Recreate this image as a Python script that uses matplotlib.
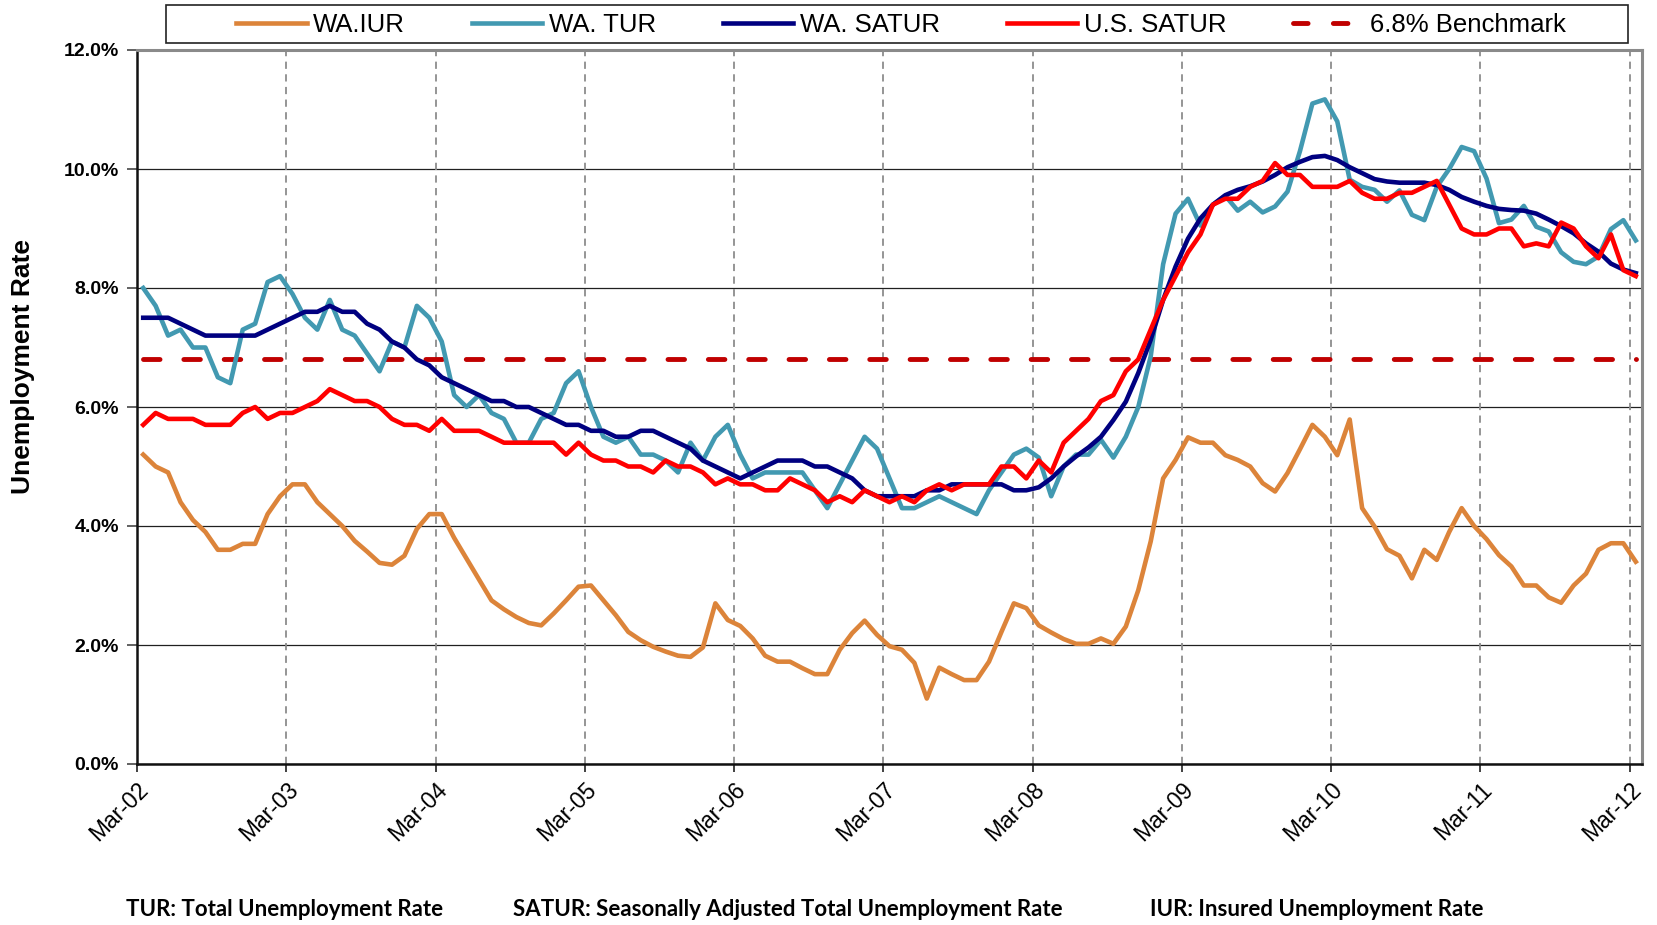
import matplotlib
matplotlib.use("Agg")
import matplotlib.pyplot as plt
from matplotlib.lines import Line2D
from matplotlib.patches import Rectangle
import numpy as np

# ---------------- data ----------------
tick_labels = ["Mar-02", "Mar-03", "Mar-04", "Mar-05", "Mar-06", "Mar-07",
               "Mar-08", "Mar-09", "Mar-10", "Mar-11", "Mar-12"]

wa_iur = [5.2, 5.0, 4.9, 4.4, 4.1, 3.9, 3.6, 3.6, 3.7, 3.7, 4.2, 4.5,
          4.7, 4.7, 4.4, 4.2, 4.0, 3.75, 3.57, 3.38, 3.35, 3.5, 3.95, 4.2,
          4.2, 3.8, 3.45, 3.1, 2.75, 2.6, 2.47, 2.37, 2.33, 2.53, 2.75, 2.98,
          3.0, 2.75, 2.5, 2.22, 2.08, 1.97, 1.89, 1.82, 1.8, 1.96, 2.7, 2.42,
          2.32, 2.11, 1.82, 1.72, 1.72, 1.61, 1.51, 1.51, 1.92, 2.2, 2.41, 2.17,
          1.98, 1.92, 1.7, 1.1, 1.62, 1.51, 1.41, 1.41, 1.72, 2.22, 2.7, 2.62,
          2.33, 2.21, 2.1, 2.02, 2.02, 2.11, 2.02, 2.31, 2.92, 3.74, 4.8, 5.11,
          5.49, 5.4, 5.4, 5.19, 5.11, 5.0, 4.72, 4.58, 4.89, 5.29, 5.7, 5.5,
          5.19, 5.79, 4.3, 3.99, 3.61, 3.5, 3.12, 3.6, 3.43, 3.9, 4.3, 4.0,
          3.78, 3.51, 3.32, 3.0, 3.0, 2.8, 2.71, 3.0, 3.2, 3.6, 3.71, 3.71,
          3.4]

wa_tur = [8.0, 7.7, 7.2, 7.3, 7.0, 7.0, 6.5, 6.4, 7.3, 7.4, 8.1, 8.2,
          7.9, 7.5, 7.3, 7.8, 7.3, 7.2, 6.9, 6.6, 7.1, 7.0, 7.7, 7.5,
          7.1, 6.2, 6.0, 6.2, 5.9, 5.8, 5.4, 5.4, 5.8, 5.9, 6.4, 6.6,
          6.0, 5.5, 5.4, 5.5, 5.2, 5.2, 5.1, 4.9, 5.4, 5.1, 5.5, 5.7,
          5.2, 4.8, 4.9, 4.9, 4.9, 4.9, 4.6, 4.3, 4.7, 5.1, 5.5, 5.3,
          4.8, 4.3, 4.3, 4.4, 4.5, 4.4, 4.3, 4.2, 4.6, 4.9, 5.2, 5.3,
          5.15, 4.5, 5.0, 5.2, 5.2, 5.45, 5.15, 5.5, 6.0, 6.85, 8.4, 9.25,
          9.5, 9.05, 9.4, 9.55, 9.3, 9.45, 9.27, 9.37, 9.62, 10.3, 11.1, 11.17,
          10.8, 9.82, 9.7, 9.65, 9.45, 9.64, 9.23, 9.14, 9.7, 10.0, 10.37, 10.3,
          9.84, 9.09, 9.15, 9.38, 9.03, 8.95, 8.6, 8.44, 8.4, 8.53, 8.99, 9.14,
          8.8]

wa_satur = [7.5, 7.5, 7.5, 7.4, 7.3, 7.2, 7.2, 7.2, 7.2, 7.2, 7.3, 7.4,
            7.5, 7.6, 7.6, 7.7, 7.6, 7.6, 7.4, 7.3, 7.1, 7.0, 6.8, 6.7,
            6.5, 6.4, 6.3, 6.2, 6.1, 6.1, 6.0, 6.0, 5.9, 5.8, 5.7, 5.7,
            5.6, 5.6, 5.5, 5.5, 5.6, 5.6, 5.5, 5.4, 5.3, 5.1, 5.0, 4.9,
            4.8, 4.9, 5.0, 5.1, 5.1, 5.1, 5.0, 5.0, 4.9, 4.8, 4.6, 4.5,
            4.5, 4.5, 4.5, 4.6, 4.6, 4.7, 4.7, 4.7, 4.7, 4.7, 4.6, 4.6,
            4.65, 4.8, 5.0, 5.17, 5.32, 5.5, 5.78, 6.09, 6.57, 7.13, 7.8, 8.36,
            8.83, 9.17, 9.4, 9.56, 9.65, 9.71, 9.79, 9.9, 10.03, 10.12, 10.2, 10.22,
            10.15, 10.03, 9.93, 9.83, 9.79, 9.77, 9.77, 9.77, 9.73, 9.65, 9.53, 9.45,
            9.38, 9.33, 9.31, 9.3, 9.25, 9.15, 9.04, 8.92, 8.75, 8.61, 8.41, 8.31,
            8.25]

us_satur = [5.7, 5.9, 5.8, 5.8, 5.8, 5.7, 5.7, 5.7, 5.9, 6.0, 5.8, 5.9,
            5.9, 6.0, 6.1, 6.3, 6.2, 6.1, 6.1, 6.0, 5.8, 5.7, 5.7, 5.6,
            5.8, 5.6, 5.6, 5.6, 5.5, 5.4, 5.4, 5.4, 5.4, 5.4, 5.2, 5.4,
            5.2, 5.1, 5.1, 5.0, 5.0, 4.9, 5.1, 5.0, 5.0, 4.9, 4.7, 4.8,
            4.7, 4.7, 4.6, 4.6, 4.8, 4.7, 4.6, 4.4, 4.5, 4.4, 4.6, 4.5,
            4.4, 4.5, 4.4, 4.6, 4.7, 4.6, 4.7, 4.7, 4.7, 5.0, 5.0, 4.8,
            5.1, 4.9, 5.4, 5.6, 5.8, 6.1, 6.2, 6.6, 6.8, 7.3, 7.8, 8.2,
            8.6, 8.9, 9.4, 9.5, 9.5, 9.7, 9.8, 10.1, 9.9, 9.9, 9.7, 9.7,
            9.7, 9.8, 9.6, 9.5, 9.5, 9.6, 9.6, 9.7, 9.8, 9.4, 9.0, 8.9,
            8.9, 9.0, 9.0, 8.7, 8.75, 8.7, 9.1, 9.0, 8.7, 8.5, 8.9, 8.3,
            8.2]

benchmark_value = 6.8
benchmark = [benchmark_value] * len(wa_iur)

assert len(wa_iur) == len(wa_tur) == len(wa_satur) == len(us_satur) == 121

# ---------------- figure ----------------
W, H = 1658, 925
fig = plt.figure(figsize=(W / 100, H / 100), dpi=100)
fig.patch.set_facecolor("white")

L, R, T, B = 137, 1642, 50, 764
ax = fig.add_axes([L / W, 1 - B / H, (R - L) / W, (B - T) / H])

x = np.arange(len(wa_iur))
n = len(x)

c_iur = "#DC843A"
c_tur = "#4299B1"
c_satur = "#000080"
c_us = "#FF0000"
c_bench = "#C00000"

lw = 3.3
bench_dashes = (3.4, 4.9)
ax.plot(x, benchmark, color=c_bench, lw=3.5, dashes=bench_dashes,
        dash_capstyle="round", zorder=3)
ax.plot(x, wa_iur, color=c_iur, lw=lw, zorder=4, solid_joinstyle="round")
ax.plot(x, wa_tur, color=c_tur, lw=lw, zorder=5, solid_joinstyle="round")
ax.plot(x, wa_satur, color=c_satur, lw=lw, zorder=6, solid_joinstyle="round")
ax.plot(x, us_satur, color=c_us, lw=lw, zorder=7, solid_joinstyle="round")

ax.set_xlim(-0.5, n - 0.5)
ax.set_ylim(0, 12)

# y axis
yt = np.arange(0, 12.01, 2)
ax.set_yticks(yt)
ax.set_yticklabels([f"{v:.1f}%" for v in yt], fontsize=14, fontweight="bold",
                   family="Liberation Sans")
ax.yaxis.grid(True, color="#202020", lw=0.9, zorder=1)
ax.set_axisbelow(True)

# x axis
xt = [-0.5 + 12 * k for k in range(len(tick_labels))]
ax.set_xticks(xt)
ax.set_xticklabels(tick_labels, rotation=45, ha="right", rotation_mode="anchor",
                   fontsize=16.5, family="Liberation Sans")
for xv in xt[1:]:
    ax.axvline(xv, color="#8c8c8c", lw=1.3, dashes=(4, 3), zorder=2)

ax.tick_params(axis="y", direction="out", length=7, width=1.3, color="#555555", pad=6)
ax.tick_params(axis="x", direction="out", length=6, width=1.3, color="#333333", pad=4)

for s in ["left", "bottom"]:
    ax.spines[s].set_color("#111111")
    ax.spines[s].set_linewidth(1.8)
for s in ["top", "right"]:
    ax.spines[s].set_color("#8a8a8a")
    ax.spines[s].set_linewidth(2.2)

fig.text(23 / W, 1 - 366 / H, "Unemployment Rate", rotation=90, ha="center",
         va="center", fontsize=19, fontweight="bold", family="Liberation Sans")

# legend
handles = [
    Line2D([], [], color=c_iur, lw=lw),
    Line2D([], [], color=c_tur, lw=lw),
    Line2D([], [], color=c_satur, lw=lw),
    Line2D([], [], color=c_us, lw=lw),
    Line2D([], [], color=c_bench, lw=3.5, dashes=(3.0, 5.2), dash_capstyle="round"),
]
labels = ["WA.IUR", "WA. TUR", "WA. SATUR", "U.S. SATUR", "6.8% Benchmark"]
fig.patches.append(Rectangle((166 / W, 1 - 43 / H), (1628 - 166) / W, 38 / H,
                             transform=fig.transFigure, facecolor="white",
                             edgecolor="#222222", lw=1.2, zorder=0))
leg = fig.legend(handles, labels, loc="center", bbox_to_anchor=(901 / W, 1 - 25 / H),
                 ncol=5, frameon=False, handlelength=2.75, handletextpad=0.25,
                 columnspacing=2.6, prop={"family": "Liberation Sans", "size": 18.5})

# footnotes
foot_kw = dict(fontsize=16, fontweight="bold", family="Lato", ha="center", va="center")
fig.text(285 / W, 1 - 909 / H, "TUR: Total Unemployment Rate", **foot_kw)
fig.text(788 / W, 1 - 909 / H, "SATUR: Seasonally Adjusted Total Unemployment Rate", **foot_kw)
fig.text(1317 / W, 1 - 909 / H, "IUR: Insured Unemployment Rate", **foot_kw)

fig.savefig("out.png", dpi=100, facecolor="white")
